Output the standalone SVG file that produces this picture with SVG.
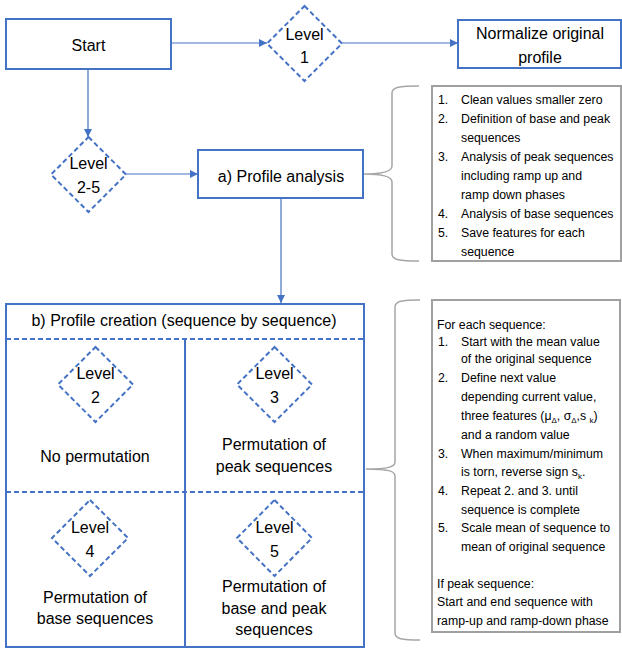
<svg xmlns="http://www.w3.org/2000/svg" width="622" height="651" viewBox="0 0 622 651">
<defs>
<marker id="ah" viewBox="0 0 10 10" refX="10" refY="5" markerWidth="8" markerHeight="8" markerUnits="userSpaceOnUse" orient="auto">
<path d="M0,0 L10,5 L0,10 Z" fill="#4472C4"/>
</marker>
<style>
.box{fill:#fff;stroke:#4472C4;stroke-width:2}
.dia{fill:#fff;stroke:#4472C4;stroke-width:2;stroke-dasharray:5 3}
.dash{fill:none;stroke:#4472C4;stroke-width:2;stroke-dasharray:5 3}
.solid{fill:none;stroke:#4472C4;stroke-width:2}
.conn{fill:none;stroke:#4472C4;stroke-width:1.2;marker-end:url(#ah)}
.brace{fill:none;stroke:#A6A6A6;stroke-width:1.5}
.note{fill:#fff;stroke:#A0A0A0;stroke-width:2}
.t{font-family:"Liberation Sans",Arial,sans-serif;font-size:16px;fill:#000;text-anchor:middle}
.s{font-family:"Liberation Sans",Arial,sans-serif;font-size:12.3px;fill:#000}
</style>
</defs>
<g id="connectors">
<line class="conn" x1="171" y1="43" x2="267" y2="43"/>
<line class="conn" x1="342" y1="43" x2="458" y2="43"/>
<line class="conn" x1="88" y1="70" x2="88" y2="137"/>
<line class="conn" x1="126" y1="174" x2="198" y2="174"/>
<line class="conn" x1="281" y1="199" x2="281" y2="303"/>
<path class="brace" d="M419,86 C400,86 392,87 392,93 L392,166 C392,171 385,174 364,174 C385,174 392,177 392,182 L392,254 C392,260 400,261 419,261"/>
<path class="brace" d="M420,300 C402,300 395,301 395,307 L395,462 C395,467 388,469 366,469 C388,469 395,471 395,476 L395,633 C395,639 402,640 420,640"/>
</g>
<g id="start">
<rect class="box" x="6" y="19" width="165" height="50"/>
<text class="t" x="88.5" y="51">Start</text>
</g>
<g id="level1">
<polygon class="dia" points="304.5,6 342,43.5 304.5,81 267,43.5"/>
<text class="t" x="304.5" y="40">Level</text>
<text class="t" x="304.5" y="63">1</text>
</g>
<g id="normalize">
<rect class="box" x="458" y="20" width="163" height="48"/>
<text class="t" x="540" y="39">Normalize original</text>
<text class="t" x="540" y="63">profile</text>
</g>
<g id="level2-5">
<polygon class="dia" points="88.5,137 126,174.5 88.5,212 51,174.5"/>
<text class="t" x="88.5" y="169">Level</text>
<text class="t" x="88.5" y="193">2-5</text>
</g>
<g id="profile-analysis">
<rect class="box" x="198" y="150" width="165" height="48"/>
<text class="t" x="281" y="182">a) Profile analysis</text>
</g>
<g id="analysis-notes">
<rect class="note" x="432" y="86" width="189" height="175"/>
<g class="s">
<text x="438" y="103.5">1.</text><text x="461" y="103.5">Clean values smaller zero</text>
<text x="438" y="122.5">2.</text><text x="461" y="122.5">Definition of base and peak</text>
<text x="461" y="141.5">sequences</text>
<text x="438" y="160.5">3.</text><text x="461" y="160.5">Analysis of peak sequences</text>
<text x="461" y="179.5">including ramp up and</text>
<text x="461" y="198.5">ramp down phases</text>
<text x="438" y="217.5">4.</text><text x="461" y="217.5">Analysis of base sequences</text>
<text x="438" y="236.5">5.</text><text x="461" y="236.5">Save features for each</text>
<text x="461" y="255.5">sequence</text>
</g>
</g>
<g id="profile-creation">
<rect class="box" x="6" y="304" width="358" height="343"/>
<text class="t" x="184" y="326">b) Profile creation (sequence by sequence)</text>
<line class="dash" x1="6" y1="339" x2="364" y2="339"/>
<line class="dash" x1="6" y1="492" x2="364" y2="492"/>
<line class="solid" x1="185" y1="339" x2="185" y2="647"/>
</g>
<g id="level2">
<polygon class="dia" points="95.5,347 133,384.5 95.5,422 58,384.5"/>
<text class="t" x="95.5" y="379">Level</text>
<text class="t" x="95.5" y="403">2</text>
<text class="t" x="95" y="462">No permutation</text>
</g>
<g id="level3">
<polygon class="dia" points="274.5,347 312,384.5 274.5,422 237,384.5"/>
<text class="t" x="274.5" y="379">Level</text>
<text class="t" x="274.5" y="403">3</text>
<text class="t" x="274" y="450">Permutation of</text>
<text class="t" x="274" y="472">peak sequences</text>
</g>
<g id="level4">
<polygon class="dia" points="90,500 128,538 90,576 52,538"/>
<text class="t" x="90" y="533">Level</text>
<text class="t" x="90" y="557">4</text>
<text class="t" x="95" y="603">Permutation of</text>
<text class="t" x="95" y="624">base sequences</text>
</g>
<g id="level5">
<polygon class="dia" points="274.5,500 312,538 274.5,576 237,538"/>
<text class="t" x="274.5" y="533">Level</text>
<text class="t" x="274.5" y="557">5</text>
<text class="t" x="274" y="592">Permutation of</text>
<text class="t" x="274" y="614">base and peak</text>
<text class="t" x="274" y="635">sequences</text>
</g>
<g id="creation-notes">
<rect class="note" x="432" y="300" width="188" height="332"/>
<g class="s">
<text x="437" y="328.5">For each sequence:</text>
<text x="438" y="345.5">1.</text><text x="461" y="345.5">Start with the mean value</text>
<text x="461" y="363">of the original sequence</text>
<text x="438" y="382">2.</text><text x="461" y="382">Define next value</text>
<text x="461" y="401">depending current value,</text>
<text x="461" y="420">three features (μ<tspan font-size="8" dy="3">Δ</tspan><tspan dy="-3">, σ</tspan><tspan font-size="8" dy="3">Δ</tspan><tspan dy="-3">,s </tspan><tspan font-size="8" dy="3">k</tspan><tspan dy="-3">)</tspan></text>
<text x="461" y="438.5">and a random value</text>
<text x="438" y="457.5">3.</text><text x="461" y="457.5">When maximum/minimum</text>
<text x="461" y="476">is torn, reverse sign s<tspan font-size="8" dy="3">k</tspan><tspan dy="-3">.</tspan></text>
<text x="438" y="494.5">4.</text><text x="461" y="494.5">Repeat 2. and 3. until</text>
<text x="461" y="513.5">sequence is complete</text>
<text x="438" y="532">5.</text><text x="461" y="532">Scale mean of sequence to</text>
<text x="461" y="550.5">mean of original sequence</text>
<text x="437" y="587.5">If peak sequence:</text>
<text x="437" y="606">Start and end sequence with</text>
<text x="437" y="624.5">ramp-up and ramp-down phase</text>
</g>
</g>
</svg>
